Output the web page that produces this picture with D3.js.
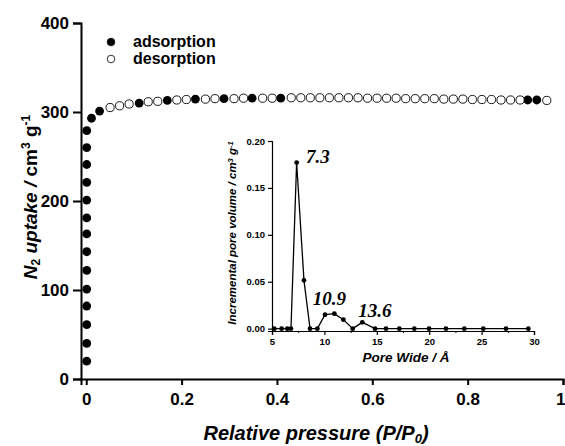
<!DOCTYPE html>
<head>
<meta charset="utf-8">
<style>
body { margin: 0; background: #fff; }
text { font-family: "Liberation Sans", Arial, sans-serif; fill: #000; }
.axis path, .axis line { stroke: #000; }
</style>
</head>
<body>
<script src="https://cdn.jsdelivr.net/npm/d3@7"></script>
<script>

// adsorption branch (filled), hidden points under desorption not listed
var adsX = [0.001, 0.001, 0.001, 0.001, 0.001, 0.001, 0.001, 0.001, 0.001, 0.001, 0.001, 0.001, 0.001, 0.001,
            0.011, 0.028, 0.111, 0.17, 0.229, 0.289, 0.348, 0.408, 0.926, 0.945];
var adsY = [20, 40, 61, 82, 101, 122, 143, 163, 181, 201, 221, 241, 260, 279,
            293, 301, 310, 313, 314.5, 315, 315.5, 315.5, 313.5, 313.5];

// desorption branch (open)
var desX = [0.05, 0.07, 0.09, 0.13, 0.15, 0.19, 0.21, 0.25, 0.27, 0.31, 0.33, 0.37, 0.39,
            0.43, 0.45, 0.47, 0.49, 0.51, 0.53, 0.55, 0.57, 0.59, 0.61, 0.63, 0.65, 0.67,
            0.69, 0.71, 0.73, 0.75, 0.77, 0.79, 0.81, 0.83, 0.85, 0.87, 0.89, 0.91, 0.966];
var desY = [305, 307, 309, 311.5, 312, 313.5, 314, 314.5, 315, 315, 315.5, 315.5, 315.5,
            316, 316, 316, 316, 316, 316, 316, 316, 315.5, 315.5, 315.5, 315.5, 315,
            315, 315, 315, 314.5, 314.5, 314.5, 314, 314, 314, 313.5, 313.5, 313.5, 313];

var xTicks = [0, 0.2, 0.4, 0.6, 0.8, 1];
var yTicks = [0, 100, 200, 300, 400];

// inset: pore size distribution
var poreW = [5.22, 5.92, 6.46, 6.81, 7.35, 8.05, 8.63, 9.33, 10.06, 10.95, 11.81, 12.7, 13.62,
             14.83, 15.88, 17.15, 18.58, 19.98, 21.6, 23.35, 25.16, 27.33, 29.46];
var poreV = [0, 0, 0, 0, 0.177, 0.0515, 0, 0, 0.0149, 0.016, 0.0096, 0, 0.0067,
             0, 0, 0, 0, 0, 0, 0, 0, 0, 0];
var insetXTicks = [5, 10, 15, 20, 25, 30];
var insetMinor = [7.5, 12.5, 17.5, 22.5, 27.5];
var insetYTicks = [0, 0.05, 0.10, 0.15, 0.20];
var peakLabels = [{w: 7.3, v: 0.177, t: "7.3"}, {w: 10.9, v: 0.016, t: "10.9"}, {w: 13.6, v: 0.0067, t: "13.6"}];

var width = 565, height = 446;

var svg = d3.select("body").append("svg")
    .attr("width", width)
    .attr("height", height);

// main scales
var x = d3.scaleLinear().domain([-0.011, 1]).range([81, 563]);
var y = d3.scaleLinear().domain([0, 400]).range([379, 23]);

var xAxis = svg.append("g")
    .attr("class", "axis")
    .attr("transform", "translate(0," + y(0) + ")")
    .call(d3.axisBottom(x).tickValues(xTicks).tickSizeOuter(0).tickSize(6).tickPadding(8)
      .tickFormat(function(d) { return (d === 0 || d === 1) ? d : d.toFixed(1); }));
xAxis.selectAll("path, line").attr("stroke-width", 2);
xAxis.selectAll("text").style("font-size", "17px").style("font-weight", "bold");
// keep the last label inside the window
xAxis.selectAll("text").filter(function(d) { return d === 1; })
    .attr("text-anchor", "end").attr("dx", 2);

var yAxis = svg.append("g")
    .attr("class", "axis")
    .attr("transform", "translate(" + x(-0.011) + ",0)")
    .call(d3.axisLeft(y).tickValues(yTicks).tickSizeOuter(0).tickSize(8).tickPadding(4));
yAxis.selectAll("path, line").attr("stroke-width", 2);
yAxis.selectAll("text").style("font-size", "17px").style("font-weight", "bold");

// axis titles
var xt = svg.append("text")
    .attr("x", 316).attr("y", 440)
    .attr("text-anchor", "middle")
    .style("font-size", "20px").style("font-weight", "bold").style("font-style", "italic");
xt.append("tspan").text("Relative pressure (P/P");
xt.append("tspan").attr("dy", 3).style("font-size", "13px").text("0");
xt.append("tspan").attr("dy", -3).text(")");

var yt = svg.append("text")
    .attr("transform", "translate(37,197) rotate(-90)")
    .attr("text-anchor", "middle")
    .style("font-size", "19px").style("font-weight", "bold").style("font-style", "italic");
yt.append("tspan").text("N");
yt.append("tspan").attr("dy", 3).style("font-size", "12px").style("font-style", "normal").text("2");
yt.append("tspan").attr("dy", -3).text(" uptake / ");
yt.append("tspan").style("font-style", "normal").text("cm");
yt.append("tspan").attr("dy", -7).style("font-size", "12px").style("font-style", "normal").text("3");
yt.append("tspan").attr("dy", 7).style("font-style", "normal").text(" g");
yt.append("tspan").attr("dy", -7).style("font-size", "12px").style("font-style", "normal").text("-1");

// data points
svg.append("g").selectAll("circle")
    .data(adsX.map(function(d, i) { return {x: d, y: adsY[i]}; }))
    .enter().append("circle")
    .attr("cx", function(d) { return x(d.x); })
    .attr("cy", function(d) { return y(d.y); })
    .attr("r", 4.4)
    .attr("fill", "#000");

svg.append("g").selectAll("circle")
    .data(desX.map(function(d, i) { return {x: d, y: desY[i]}; }))
    .enter().append("circle")
    .attr("cx", function(d) { return x(d.x); })
    .attr("cy", function(d) { return y(d.y); })
    .attr("r", 4.1)
    .attr("fill", "#fff")
    .attr("stroke", "#000")
    .attr("stroke-width", 0.9);

// legend
var legend = [{label: "adsorption", fill: "#000"}, {label: "desorption", fill: "#fff"}];
var lg = svg.append("g").selectAll("g")
    .data(legend)
    .enter().append("g")
    .attr("transform", function(d, i) { return "translate(111," + (42 + i * 17) + ")"; });
lg.append("circle").attr("r", 3.8)
    .attr("fill", function(d) { return d.fill; })
    .attr("stroke", "#000").attr("stroke-width", 0.8);
lg.append("text").attr("x", 22).attr("y", 5)
    .style("font-size", "16px").style("font-weight", "bold")
    .text(function(d) { return d.label; });

// inset
var ix = d3.scaleLinear().domain([5, 30]).range([272, 534]);
var iy = d3.scaleLinear().domain([-0.0025, 0.2]).range([331, 141]);

var ixAxis = svg.append("g")
    .attr("class", "axis")
    .attr("transform", "translate(0," + iy.range()[0] + ")")
    .call(d3.axisBottom(ix).tickValues(insetXTicks).tickSizeOuter(0).tickSize(4).tickPadding(3));
ixAxis.selectAll("text").style("font-size", "9.5px").style("font-weight", "bold");
ixAxis.selectAll("path, line").attr("stroke-width", 1.2);

svg.append("g")
    .attr("class", "axis")
    .attr("transform", "translate(0," + iy.range()[0] + ")")
    .call(d3.axisBottom(ix).tickValues(insetMinor).tickSizeOuter(0).tickSize(2).tickFormat(""))
    .select(".domain").remove();

var iyAxis = svg.append("g")
    .attr("class", "axis")
    .attr("transform", "translate(" + ix(5) + ",0)")
    .call(d3.axisLeft(iy).tickValues(insetYTicks).tickSizeOuter(0).tickSize(4).tickPadding(3)
      .tickFormat(d3.format(".2f")));
iyAxis.selectAll("text").style("font-size", "9.5px").style("font-weight", "bold");
iyAxis.selectAll("path, line").attr("stroke-width", 1.2);

var line = d3.line()
    .x(function(d, i) { return ix(poreW[i]); })
    .y(function(d) { return iy(d); });

svg.append("path")
    .datum(poreV)
    .attr("d", line)
    .attr("fill", "none")
    .attr("stroke", "#000")
    .attr("stroke-width", 1.3);

svg.append("g").selectAll("circle")
    .data(poreV)
    .enter().append("circle")
    .attr("cx", function(d, i) { return ix(poreW[i]); })
    .attr("cy", function(d) { return iy(d); })
    .attr("r", 2.4)
    .attr("fill", "#000");

// peak labels, nudged off their peaks
var labelOffset = {"7.3": [10, 0], "10.9": [-21, -9], "13.6": [-4, -5]};
svg.append("g").selectAll("text")
    .data(peakLabels)
    .enter().append("text")
    .attr("x", function(d) { return ix(d.w) + labelOffset[d.t][0]; })
    .attr("y", function(d) { return iy(d.v) + labelOffset[d.t][1]; })
    .style("font-family", "'Liberation Serif', 'Times New Roman', serif")
    .style("font-size", "19px").style("font-weight", "bold").style("font-style", "italic")
    .text(function(d) { return d.t; });

// inset titles
svg.append("text")
    .attr("x", 406).attr("y", 362)
    .attr("text-anchor", "middle")
    .style("font-size", "13.5px").style("font-weight", "bold").style("font-style", "italic")
    .text("Pore Wide / Å");

var iyt = svg.append("text")
    .attr("transform", "translate(236,233) rotate(-90)")
    .attr("text-anchor", "middle")
    .style("font-size", "11.5px").style("font-weight", "bold").style("font-style", "italic");
iyt.append("tspan").text("Incremental pore volume / cm");
iyt.append("tspan").attr("dy", -3).style("font-size", "7.5px").text("3");
iyt.append("tspan").attr("dy", 3).text(" g");
iyt.append("tspan").attr("dy", -3).style("font-size", "7.5px").text("-1");

</script>
</body>
</html>
